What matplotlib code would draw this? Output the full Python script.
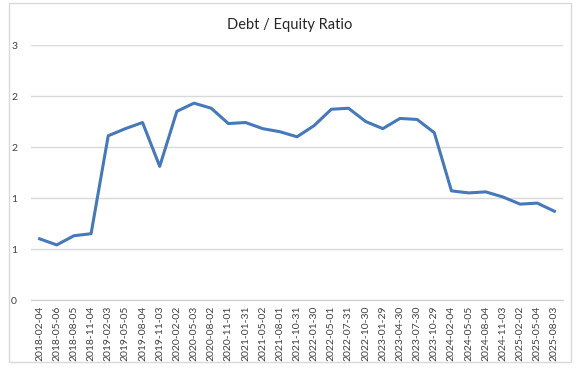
import matplotlib
matplotlib.use('Agg')
import matplotlib.pyplot as plt
from matplotlib.patches import Rectangle

plt.rcParams['font.family'] = ['Lato', 'DejaVu Sans']

dates = ['2018-02-04', '2018-05-06', '2018-08-05', '2018-11-04', '2019-02-03',
         '2019-05-05', '2019-08-04', '2019-11-03', '2020-02-02', '2020-05-03',
         '2020-08-02', '2020-11-01', '2021-01-31', '2021-05-02', '2021-08-01',
         '2021-10-31', '2022-01-30', '2022-05-01', '2022-07-31', '2022-10-30',
         '2023-01-29', '2023-04-30', '2023-07-30', '2023-10-29', '2024-02-04',
         '2024-05-05', '2024-08-04', '2024-11-03', '2025-02-02', '2025-05-04',
         '2025-08-03']
ratio = [0.60, 0.54, 0.63, 0.65, 1.61, 1.68, 1.74, 1.31, 1.85, 1.93,
         1.88, 1.73, 1.74, 1.68, 1.65, 1.60, 1.71, 1.87, 1.88, 1.75,
         1.68, 1.78, 1.77, 1.64, 1.07, 1.05, 1.06, 1.01, 0.94, 0.95,
         0.87]
y_ticks = [0, 0.5, 1.0, 1.5, 2.0, 2.5]
y_labels = ['0', '1', '1', '2', '2', '3']

fig = plt.figure(figsize=(5.8, 3.7), dpi=100)
# outer chart border
fig.patches.append(Rectangle((9/580, 8/370), 562/580, 359/370, transform=fig.transFigure,
                             fill=False, edgecolor='#d9d9d9', linewidth=1))

ax = fig.add_axes([31/580, 1 - 300/370, 532/580, 255/370])
x = list(range(len(dates)))
ax.plot(x, ratio, color='#4679b9', linewidth=2.2, solid_joinstyle='round')

ax.set_xlim(-0.5, len(dates) - 0.5)
ax.set_ylim(0, 2.5)
ax.set_yticks(y_ticks)
ax.set_yticklabels(y_labels)
ax.set_xticks(x)
ax.set_xticklabels(dates, rotation=90)
ax.grid(axis='y', color='#d9d9d9', linewidth=1)
ax.set_axisbelow(True)
for s in ['top', 'right', 'left']:
    ax.spines[s].set_visible(False)
ax.spines['bottom'].set_color('#d0d0d0')
ax.tick_params(axis='both', length=0, labelsize=7.5, colors='#404040')
ax.tick_params(axis='y', pad=10)
ax.tick_params(axis='x', pad=4)

fig.text(0.5, 1 - 25/370, 'Debt / Equity Ratio', ha='center', va='center',
         fontsize=10.5, color='#262626')

fig.savefig('out.png', dpi=100)
